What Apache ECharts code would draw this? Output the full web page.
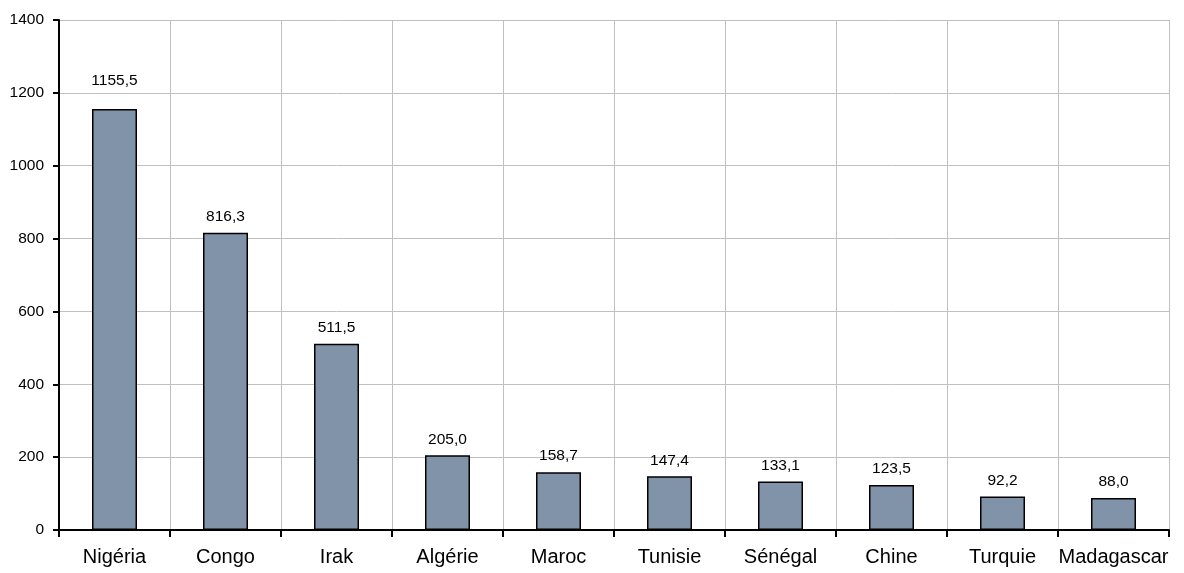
<!DOCTYPE html>
<html>
<head>
<meta charset="utf-8">
<script src="https://cdn.jsdelivr.net/npm/echarts@6/dist/echarts.min.js"></script>
<style>
html,body{margin:0;padding:0;background:#fff;}
#chart{width:1184px;height:573px;}
</style>
</head>
<body>
<div id="chart"></div>
<script>
const categories = ['Nigéria','Congo','Irak','Algérie','Maroc','Tunisie','Sénégal','Chine','Turquie','Madagascar'];
const values = [1155.5, 816.3, 511.5, 205.0, 158.7, 147.4, 133.1, 123.5, 92.2, 88.0];
const yTicks = [0, 200, 400, 600, 800, 1000, 1200, 1400];

const FONT = '"Liberation Sans", Arial, sans-serif';
const chart = echarts.init(document.getElementById('chart'), null, {renderer: 'canvas'});

const seriesData = values.map((v, i) => {
  const item = {value: v};
  if (i === 0) item.label = {offset: [0, -12]};
  return item;
});

chart.setOption({
  animation: false,
  backgroundColor: '#ffffff',
  grid: {left: 59, right: 15, top: 20, bottom: 43, containLabel: false},
  xAxis: {
    type: 'category',
    data: categories,
    boundaryGap: true,
    axisLine: {show: true, lineStyle: {color: '#000', width: 2}},
    axisTick: {show: true, length: 7, inside: false, alignWithLabel: false, lineStyle: {color: '#000', width: 2}},
    axisLabel: {color: '#000', fontFamily: FONT, fontSize: 20, margin: 17, interval: 0},
    splitLine: {show: true, interval: 0, lineStyle: {color: '#c0c0c0', width: 1}}
  },
  yAxis: {
    type: 'value',
    min: yTicks[0],
    max: yTicks[yTicks.length - 1],
    interval: 200,
    axisLine: {show: true, lineStyle: {color: '#000', width: 2}},
    axisTick: {show: true, length: 6, inside: false, lineStyle: {color: '#000', width: 2}},
    axisLabel: {color: '#000', fontFamily: FONT, fontSize: 15.5, margin: 15, formatter: v => String(v)},
    splitLine: {show: true, lineStyle: {color: '#c0c0c0', width: 1}}
  },
  series: [{
    type: 'bar',
    data: seriesData,
    barWidth: 45,
    itemStyle: {color: '#8093a8', borderColor: '#000', borderWidth: 1.5},
    label: {
      show: true,
      position: 'top',
      distance: 8,
      color: '#000',
      fontFamily: FONT,
      fontSize: 15.5,
      formatter: p => p.value.toFixed(1).replace('.', ',')
    }
  }]
});
</script>
</body>
</html>
